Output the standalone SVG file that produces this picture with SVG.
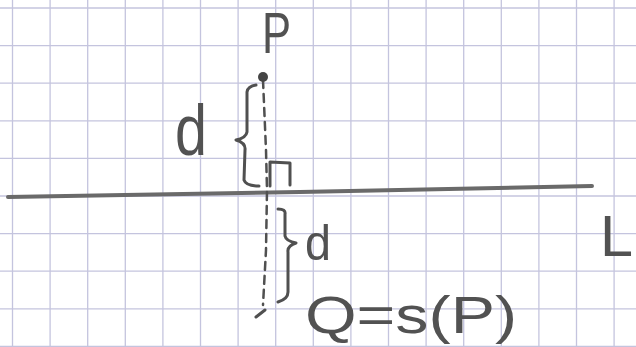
<svg xmlns="http://www.w3.org/2000/svg" width="636" height="347" viewBox="0 0 636 347">
<style>
.grid line{stroke:#c4c4de;stroke-width:1.3}
.pen{fill:none;stroke:#505050;stroke-width:3;stroke-linecap:round;stroke-linejoin:round}
.txt{font-family:"Liberation Sans",Arial,sans-serif;fill:#525252}
</style>
<rect width="636" height="347" fill="#ffffff"/>
<g class="grid">
<line x1="12.5" y1="0" x2="12.5" y2="347"/><line x1="50.1" y1="0" x2="50.1" y2="347"/><line x1="87.7" y1="0" x2="87.7" y2="347"/><line x1="125.3" y1="0" x2="125.3" y2="347"/><line x1="162.9" y1="0" x2="162.9" y2="347"/><line x1="200.5" y1="0" x2="200.5" y2="347"/><line x1="238.1" y1="0" x2="238.1" y2="347"/><line x1="275.7" y1="0" x2="275.7" y2="347"/><line x1="313.3" y1="0" x2="313.3" y2="347"/><line x1="350.9" y1="0" x2="350.9" y2="347"/><line x1="388.5" y1="0" x2="388.5" y2="347"/><line x1="426.1" y1="0" x2="426.1" y2="347"/><line x1="463.7" y1="0" x2="463.7" y2="347"/><line x1="501.3" y1="0" x2="501.3" y2="347"/><line x1="538.9" y1="0" x2="538.9" y2="347"/><line x1="576.5" y1="0" x2="576.5" y2="347"/><line x1="614.1" y1="0" x2="614.1" y2="347"/>
<line x1="0" y1="8" x2="636" y2="8"/><line x1="0" y1="45.6" x2="636" y2="45.6"/><line x1="0" y1="83.2" x2="636" y2="83.2"/><line x1="0" y1="120.8" x2="636" y2="120.8"/><line x1="0" y1="158.4" x2="636" y2="158.4"/><line x1="0" y1="196" x2="636" y2="196"/><line x1="0" y1="233.6" x2="636" y2="233.6"/><line x1="0" y1="271.2" x2="636" y2="271.2"/><line x1="0" y1="308.8" x2="636" y2="308.8"/><line x1="0" y1="346.4" x2="636" y2="346.4"/>
</g>
<g id="line-L">
<path d="M8 197 L300 192 L592 186" fill="none" stroke="#6a6a6a" stroke-width="4" stroke-linecap="round"/>
<text class="txt" x="600" y="256" font-size="58" textLength="33" lengthAdjust="spacingAndGlyphs">L</text>
</g>
<g id="connectors">
<path d="M263 80 L266 150 L267 190 L266 250 L263 305" fill="none" stroke="#505050" stroke-width="2.5" stroke-dasharray="8 6" stroke-linecap="round"/>
</g>
<g id="point-P">
<circle cx="263" cy="77" r="5" fill="#454545"/>
<text class="txt" x="262" y="53" font-size="58" textLength="29" lengthAdjust="spacingAndGlyphs">P</text>
</g>
<g id="point-Q">
<path d="M256 317 L265 310" class="pen" stroke-width="4.5"/>
<text class="txt" x="305" y="333" font-size="52" textLength="212" lengthAdjust="spacingAndGlyphs">Q=s(P)</text>
</g>
<g id="right-angle">
<path class="pen" d="M270 186 L270 162 L290 163 L290 185"/>
</g>
<g id="upper-distance">
<path class="pen" d="M256 85 Q248 86 247 92 L247 132 Q246 138 236 140 Q246 143 245 150 L244 180 Q246 186 259 186"/>
<text class="txt" x="175" y="155" font-size="72" textLength="32" lengthAdjust="spacingAndGlyphs">d</text>
</g>
<g id="lower-distance">
<path class="pen" d="M278 209 Q286 209 285 214 L285 236 Q286 241 296 243 Q287 246 288 252 L288 292 Q288 299 278 302"/>
<text class="txt" x="305" y="260" font-size="50" textLength="26" lengthAdjust="spacingAndGlyphs">d</text>
</g>
</svg>
